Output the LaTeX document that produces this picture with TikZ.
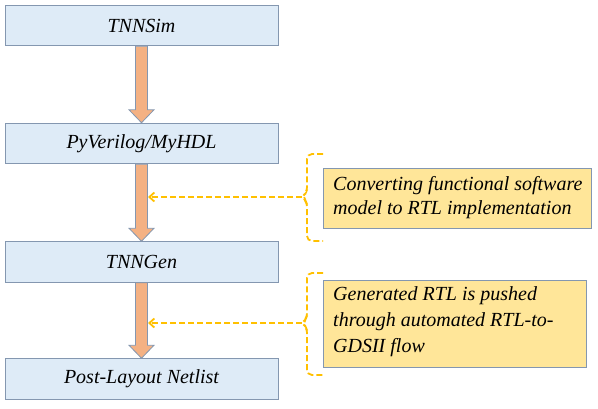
\documentclass[tikz,border=0pt]{standalone}
\usepackage{fontspec}
\setmainfont{Liberation Serif}[UprightFont=*, ItalicFont=* Italic, BoldFont=* Bold]
\usetikzlibrary{arrows.meta,calc}
\definecolor{boxfill}{HTML}{DEEBF7}
\definecolor{boxline}{HTML}{8497B0}
\definecolor{arrfill}{HTML}{F4B183}
\definecolor{notefill}{HTML}{FFE699}
\definecolor{dashcol}{HTML}{FFC000}
\begin{document}
\begin{tikzpicture}[x=1pt,y=-1pt,
  stagebox/.style={draw=boxline, fill=boxfill, line width=1pt, minimum width=273pt, minimum height=40.5pt, inner sep=0pt, font=\rmfamily\fontsize{20}{24}\selectfont\itshape},
  notebox/.style={draw=boxline, fill=notefill, line width=1pt, inner sep=0pt},
  notetext/.style={anchor=west, align=left, inner sep=0pt, font=\rmfamily\fontsize{20}{24}\selectfont\itshape},
  bigarrow/.style={draw=boxline, fill=arrfill, line width=0.8pt, line join=miter},
  dashline/.style={draw=dashcol, line width=1.8pt, dash pattern=on 6pt off 3pt}
]
\useasboundingbox (0,0) rectangle (598,408);
\node[stagebox] (b1) at (141.5,25.5) {TNNSim};
\node[stagebox] (b2) at (141.5,143.5) {PyVerilog/MyHDL};
\node[stagebox] (b3) at (141.5,262) {TNNGen};
\node[stagebox] (b4) at (141.5,379) {Post-Layout Netlist};

\foreach \a/\b in {b1/b2,b2/b3,b3/b4}{
  \draw[bigarrow] ([xshift=-6pt]\a.south) -- ([xshift=-6pt,yshift=13pt]\b.north)
    -- ([xshift=-12.5pt,yshift=13pt]\b.north) -- (\b.north)
    -- ([xshift=12.5pt,yshift=13pt]\b.north) -- ([xshift=6pt,yshift=13pt]\b.north)
    -- ([xshift=6pt]\a.south) -- cycle;
}

\node[notebox, minimum width=268pt, minimum height=60pt] (n1) at (457,198) {};
\node[notetext] (t1) at (333,198) {Converting functional software\\model to RTL implementation};
\node[notebox, minimum width=263pt, minimum height=87pt] (n2) at (454.5,323.5) {};
\node[notetext, font=\rmfamily\fontsize{20}{26}\selectfont\itshape] (t2) at (333,322) {Generated RTL is pushed\\through automated RTL-to-\\GDSII flow};

\coordinate (c1) at (302,197);
\coordinate (c2) at (302,323);
\coordinate (e1) at (148,197);
\coordinate (e2) at (148,323);

\draw[dashline, rounded corners=5pt] (323,154) -| (307,192) -- (c1) -- (307,202) |- (323,241);
\draw[dashline, rounded corners=5pt] (323,273) -| (307,318) -- (c2) -- (307,328) |- (323,375);
\draw[dashline, -{Straight Barb[length=5pt,width=9pt]}] (c1) -- (e1);
\draw[dashline, -{Straight Barb[length=5pt,width=9pt]}] (c2) -- (e2);
\end{tikzpicture}
\end{document}
